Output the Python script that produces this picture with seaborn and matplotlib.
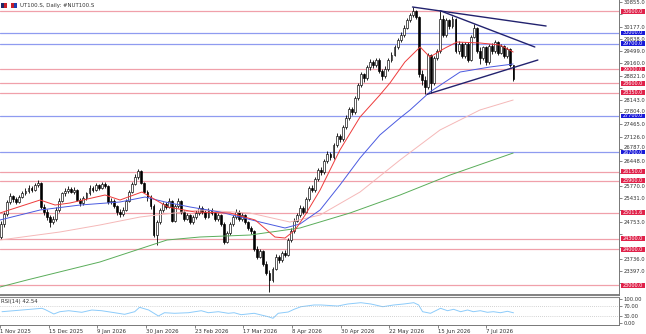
import matplotlib
matplotlib.use("Agg")
import matplotlib.pyplot as plt
import matplotlib.transforms as mtransforms
from matplotlib.patches import Rectangle
import seaborn as sns
import pandas as pd

# ---------------- data ----------------
first_open = 24150
closes = [24350, 24700, 24980, 25300, 25480, 25400, 25320, 25450, 25550, 25620,
          25700, 25660, 25780, 25850, 25180, 25050, 24900, 24750, 24850, 25100,
          25350, 25550, 25620, 25680, 25600, 25650, 25380, 25280, 25420, 25550,
          25700, 25650, 25780, 25700, 25820, 25760, 25300, 25350, 25200, 25050,
          24980, 25100, 25350, 25600, 25820, 26000, 26180, 25850, 25600, 25450,
          25200, 24400, 24750, 25100, 25250, 25180, 25350, 24800, 25200, 25350,
          25050, 24850, 24950, 24750, 24900, 25000, 25150, 25050, 24900, 25100,
          25000, 24850, 24950, 24700, 24200, 24450, 24700, 24900, 25050, 24850,
          24950, 24750, 24600, 24500, 24000, 23800, 23950, 23600, 23350, 23150,
          23450, 23800, 23700, 23900, 23850, 24250, 24500, 24800, 24950, 25150,
          25050, 25400, 25700, 25650, 25950, 26200, 26150, 26450, 26650, 26550,
          26900, 27150, 27050, 27400, 27650, 27900, 27800, 28200, 28550, 28850,
          28750, 29050, 29200, 29100, 29250, 28950, 28800, 29000, 29250, 29400,
          29600, 29800, 29950, 30150, 30350, 30500, 30600, 30450, 28850, 28700,
          28500, 29400, 28600, 29300, 29500, 30400, 29950, 30350, 30200, 30400,
          29500, 29700, 29350, 29700, 29250, 29900, 30150, 29500, 29300, 29600,
          29200, 29650, 29500, 29750, 29450, 29650, 29350, 29550, 29100, 28720]
highs = [24420, 24780, 25050, 25380, 25560, 25520, 25450, 25500, 25620, 25700,
         25780, 25760, 25850, 25920, 25870, 25250, 25120, 24950, 24920, 25180,
         25420, 25600, 25700, 25760, 25720, 25720, 25680, 25420, 25480, 25600,
         25780, 25750, 25850, 25820, 25880, 25860, 25780, 25420, 25400, 25240,
         25120, 25180, 25400, 25650, 25880, 26080, 26230, 26200, 25880, 25650,
         25500, 25250, 24820, 25160, 25320, 25300, 25420, 25380, 25260, 25420,
         25380, 25100, 25020, 24980, 24960, 25080, 25220, 25200, 25100, 25160,
         25150, 25050, 25020, 24980, 24760, 24520, 24760, 24960, 25120, 25100,
         25020, 24980, 24800, 24650, 24550, 24080, 24020, 23980, 23680, 23420,
         23520, 23880, 23850, 23960, 23980, 24320, 24580, 24860, 25020, 25220,
         25200, 25460, 25760, 25780, 26020, 26260, 26280, 26500, 26720, 26700,
         26960, 27220, 27200, 27460, 27720, 27960, 27950, 28260, 28620, 28920,
         28900, 29120, 29280, 29250, 29320, 29300, 29000, 29080, 29300, 29460,
         29660, 29860, 30020, 30220, 30420, 30560, 30721, 30640, 30480, 28980,
         28800, 29450, 29420, 29360, 29560, 30620, 30500, 30420, 30400, 30460,
         30420, 29780, 29750, 29760, 29750, 29950, 30250, 30180, 29600, 29650,
         29650, 29700, 29720, 29800, 29780, 29700, 29680, 29600, 29580, 29120]
lows = [24050, 24300, 24620, 24920, 25250, 25320, 25250, 25280, 25420, 25500,
        25560, 25600, 25620, 25720, 25120, 24950, 24820, 24620, 24700, 24800,
        25050, 25300, 25480, 25560, 25550, 25540, 25330, 25200, 25230, 25380,
        25500, 25580, 25620, 25650, 25680, 25700, 25250, 25250, 25150, 24960,
        24900, 24930, 25060, 25300, 25560, 25780, 25950, 25800, 25550, 25350,
        25120, 24350, 24120, 24700, 25050, 25120, 25150, 24760, 24750, 25150,
        24980, 24800, 24820, 24700, 24700, 24850, 24950, 24980, 24850, 24870,
        24950, 24800, 24800, 24650, 24150, 24180, 24400, 24650, 24850, 24800,
        24800, 24700, 24550, 24430, 23950, 23720, 23760, 23550, 23300, 22818,
        23100, 23420, 23620, 23650, 23780, 23820, 24200, 24450, 24750, 24900,
        24980, 25000, 25350, 25580, 25600, 25900, 26050, 26100, 26400, 26480,
        26500, 26850, 26980, 27000, 27350, 27600, 27720, 27750, 28150, 28500,
        28650, 28700, 28980, 29020, 29050, 28900, 28700, 28750, 28950, 29200,
        29350, 29550, 29750, 29900, 30100, 30300, 30450, 30380, 28780, 28550,
        28300, 28450, 28350, 28560, 29250, 29450, 29900, 29900, 30100, 30150,
        29450, 29420, 29300, 29300, 29200, 29220, 29850, 29450, 29150, 29250,
        29100, 29150, 29420, 29450, 29400, 29420, 29300, 29320, 29050, 28680]

date_labels = ["1 Nov 2025", "15 Dec 2025", "9 Jan 2026", "30 Jan 2026", "23 Feb 2026",
               "17 Mar 2026", "8 Apr 2026", "30 Apr 2026", "22 May 2026", "15 Jun 2026",
               "7 Jul 2026"]
date_bars = [0, 16, 32, 48, 64, 80, 96, 112, 128, 144, 160]

price_ticks = [30855.0, 30516.0, 30177.0, 29838.0, 29499.0, 29160.0, 28821.0, 28482.0,
               28143.0, 27804.0, 27465.0, 27126.0, 26787.0, 26448.0, 26109.0, 25770.0,
               25431.0, 25092.0, 24753.0, 24414.0, 24075.0, 23736.0, 23397.0, 23058.0]
# tick labels hidden behind level boxes in the reference
hidden_ticks = [30516.0, 28482.0, 26109.0, 25092.0, 24414.0, 24075.0, 23058.0]
# tick labels squeezed just above a level box
nudged_ticks = [27804.0, 26787.0]

levels_red = [30600.0, 29000.0, 28600.0, 28350.0, 26150.0, 25900.0, 25011.6, 24300.0, 24000.0, 23000.0]
levels_blue = [30000.0, 29700.0, 27700.0, 26700.0]

ma_fast_x = [0.66, 13.8, 18.7, 23.6, 35.1, 40, 47.2, 55.7, 64.6, 76.1, 84.3, 90.8, 94.1, 97.4,
             100.7, 105.6, 112.1, 118.7, 125.2, 128.5, 133.4, 138.4, 141.6, 146.6, 150.5, 158,
             164.6, 168.9]
ma_fast_y = [25009, 25369, 25230, 25286, 25508, 25369, 25591, 25175, 25036, 25009, 24815, 24343,
             24315, 24537, 24953, 25646, 26756, 27671, 28281, 28613, 29196, 29612, 29334, 29584,
             29750, 29723, 29667, 29473]
ma_mid_x = [0.66, 13.8, 26.9, 40, 48.2, 54.8, 63, 72.8, 85.9, 94.1, 99, 105.6, 112.1, 118.7,
            125.2, 131.8, 135.1, 141.6, 151.5, 161.3, 168.9]
ma_mid_y = [24815, 25092, 25230, 25314, 25452, 25314, 25175, 25036, 24759, 24593, 24704, 25092,
            25785, 26534, 27172, 27644, 27865, 28364, 28918, 29057, 29140]
ma_slow_x = [0.66, 20.3, 33.4, 46.6, 66.2, 82.6, 95.7, 105.6, 118.7, 131.8, 144.9, 158, 168.9]
ma_slow_y = [24260, 24482, 24676, 24898, 25092, 25009, 24759, 24953, 25591, 26478, 27310, 27865, 28142]
ma_long_x = [0.66, 9.5, 33.4, 55.4, 66.2, 82.6, 99, 115.4, 131.8, 148.2, 168.9]
ma_long_y = [22957, 23151, 23650, 24260, 24343, 24398, 24593, 25009, 25507, 26061, 26672]

rsi_x = [0.66, 7.2, 13.8, 14.8, 17.7, 19.7, 22.6, 26.9, 30.2, 33.4, 37.7, 41, 44.3, 45.9, 48.9,
         52.1, 54.1, 57.4, 62, 66.2, 68.5, 71.8, 75.1, 77, 79.3, 83.6, 88.2, 89.8, 91.5, 94.8,
         96.7, 99, 103.3, 105.6, 111.1, 114.4, 118.7, 122, 125.9, 129.5, 132.8, 136.1, 137.7,
         139, 141.6, 144.9, 147.2, 149.2, 151.5, 153.8, 155.7, 158, 160.3, 162.3, 164.6, 166.9,
         168.9]
rsi_y = [47.1, 54.1, 61.2, 56.2, 37.6, 47.1, 51.2, 44.6, 54.1, 51.2, 42.9, 36.3, 47.1, 65.3, 54.1,
         29.3, 42.9, 40.5, 42.9, 51.2, 42.9, 47.1, 40.5, 42.9, 34.7, 40.5, 26.4, 19.8, 40.5, 45.8,
         57.0, 67.8, 74.9, 74.9, 70.7, 79.0, 84.4, 79.0, 67.8, 74.9, 79.0, 84.4, 74.9,
         47.1, 40.5, 61.2, 51.2, 57.0, 47.1, 54.1, 47.1, 51.2, 44.6, 47.1, 42.9, 48.8,
         42.54]

trend_lines = [((135.9, 30721), (179.7, 30194)),
               ((144.9, 30620), (176.0, 29612)),
               ((140.7, 28300), (177.0, 29251))]

# ---------------- styling ----------------
sns.set_theme(style="white")
plt.rcParams["font.family"] = ["DejaVu Sans"]

W, H = 646, 334
fig = plt.figure(figsize=(W / 100, H / 100), dpi=100)
fig.patch.set_facecolor("white")

axr = 619 / W
ax = fig.add_axes([0, (H - 295) / H, axr, 295 / H])
ax_rsi = fig.add_axes([0, (H - 325) / H, axr, 28 / H])

xlim = (0.656, 203.6)
ylim = (22735, 30915)
units_per_px = (ylim[1] - ylim[0]) / 295.0

df = pd.DataFrame({"close": closes, "high": highs, "low": lows})
df["open"] = [first_open] + closes[:-1]
df["bar"] = range(len(df))

# level lines
for lv in levels_red:
    ax.axhline(lv, color="#f0a0aa", lw=0.9, zorder=1)
for lv in levels_blue:
    ax.axhline(lv, color="#8f9bf0", lw=0.9, zorder=1)

# candles
ax.vlines(df["bar"], df["low"], df["high"], color="black", lw=0.6, zorder=3)
bull = df["close"] >= df["open"]
body_h = (df["close"] - df["open"]).abs().clip(lower=15)
body_b = df[["open", "close"]].min(axis=1)
ax.bar(df["bar"], body_h, bottom=body_b, width=0.62,
       color=["white" if b else "black" for b in bull],
       edgecolor="black", linewidth=0.45, zorder=4)

# moving averages
sns.lineplot(x=ma_long_x, y=ma_long_y, ax=ax, color="#5aad5a", lw=0.7, estimator=None, sort=False, zorder=5)
sns.lineplot(x=ma_slow_x, y=ma_slow_y, ax=ax, color="#f5b8b8", lw=0.7, estimator=None, sort=False, zorder=5)
sns.lineplot(x=ma_mid_x, y=ma_mid_y, ax=ax, color="#4a5ae0", lw=0.7, estimator=None, sort=False, zorder=5)
sns.lineplot(x=ma_fast_x, y=ma_fast_y, ax=ax, color="#ee3a3a", lw=0.7, estimator=None, sort=False, zorder=5)

# trend lines
for (x0, y0), (x1, y1) in trend_lines:
    sns.lineplot(x=[x0, x1], y=[y0, y1], ax=ax, color="#22226e", lw=1.0, estimator=None, sort=False, zorder=6)

ax.set_xlim(*xlim)
ax.set_ylim(*ylim)
ax.set_xticks([])
ax.yaxis.tick_right()
ax.set_yticks(price_ticks)
ax.set_yticklabels(["" if t in hidden_ticks else f"{t:.1f}" for t in price_ticks])
ax.tick_params(axis="y", which="both", right=True, length=2, width=0.5, color="#555",
               labelsize=3.8, labelcolor="#333", pad=1)
shift_up = mtransforms.ScaledTranslation(0, 1.6 / 100, fig.dpi_scale_trans)
for t, lab in zip(price_ticks, ax.get_yticklabels()):
    if t in nudged_ticks:
        lab.set_transform(lab.get_transform() + shift_up)
ax.set_xlabel("")
ax.set_ylabel("")
for s in ["left", "top"]:
    ax.spines[s].set_visible(False)
ax.spines["right"].set_color("#777")
ax.spines["right"].set_linewidth(0.7)
ax.spines["bottom"].set_color("#777")
ax.spines["bottom"].set_linewidth(1.3)
ax.grid(False)

# level labels on the right axis (fixed-size boxes)
trans = mtransforms.blended_transform_factory(ax.transAxes, ax.transData)
box_h = 4.8 * units_per_px
box_x0 = 620.5 / 619.0
box_w = 24.0 / 619.0
for levels, col in ((levels_red, "#e0224a"), (levels_blue, "#1a1ad8")):
    for lv in levels:
        ax.add_patch(Rectangle((box_x0, lv - box_h / 2), box_w, box_h, transform=trans,
                               fc=col, ec="none", clip_on=False, zorder=9))
        ax.text(box_x0 + box_w / 2, lv, f"{lv:.1f}", transform=trans, fontsize=3.5,
                color="white", ha="center", va="center", clip_on=False, zorder=10)

# title
fig.patches.append(Rectangle((1 / W, (H - 8) / H), 6 / W, 5 / H, transform=fig.transFigure,
                             fc="#1f2a6b", ec="none"))
fig.patches.append(Rectangle((4 / W, (H - 8) / H), 3 / W, 5 / H, transform=fig.transFigure,
                             fc="#c8202a", ec="none"))
fig.patches.append(Rectangle((11 / W, (H - 8) / H), 3 / W, 5 / H, transform=fig.transFigure,
                             fc="#c8202a", ec="none"))
fig.patches.append(Rectangle((14 / W, (H - 8) / H), 3 / W, 5 / H, transform=fig.transFigure,
                             fc="#1f3fb0", ec="none"))
fig.text(20 / W, (H - 5.5) / H, "UT100.S, Daily: #NUT100.S", fontsize=3.9, color="#333",
         ha="left", va="center")

# RSI panel
sns.lineplot(x=rsi_x, y=rsi_y, ax=ax_rsi, color="#8ccbfa", lw=0.7, estimator=None, sort=False)
ax_rsi.axhline(70, color="#aaaaaa", lw=0.5, ls=(0, (1, 2)))
ax_rsi.axhline(30, color="#aaaaaa", lw=0.5, ls=(0, (1, 2)))
ax_rsi.set_xlim(*xlim)
ax_rsi.set_ylim(-8, 108)
ax_rsi.yaxis.tick_right()
ax_rsi.set_yticks([100, 70, 30, 0])
ax_rsi.set_yticklabels(["100.00", "70.00", "30.00", "0.00"])
ax_rsi.tick_params(axis="y", right=True, length=2, width=0.5, color="#555",
                   labelsize=3.8, labelcolor="#333", pad=1)
ax_rsi.set_xticks(date_bars)
ax_rsi.set_xticklabels(date_labels, ha="left")
ax_rsi.tick_params(axis="x", bottom=True, length=2, width=0.5, color="#555",
                   labelsize=3.9, labelcolor="#333", pad=1)
ax_rsi.set_xlabel("")
ax_rsi.set_ylabel("")
for s in ["left"]:
    ax_rsi.spines[s].set_visible(False)
ax_rsi.spines["top"].set_color("#888")
ax_rsi.spines["top"].set_linewidth(0.8)
ax_rsi.spines["right"].set_color("#777")
ax_rsi.spines["right"].set_linewidth(0.7)
ax_rsi.spines["bottom"].set_color("#777")
ax_rsi.spines["bottom"].set_linewidth(0.7)
ax_rsi.grid(False)
ax_rsi.text(0.002, 0.93, "RSI(14) 42.54", transform=ax_rsi.transAxes, fontsize=3.9,
            color="#333", ha="left", va="top")

fig.savefig("out.png", dpi=100)
